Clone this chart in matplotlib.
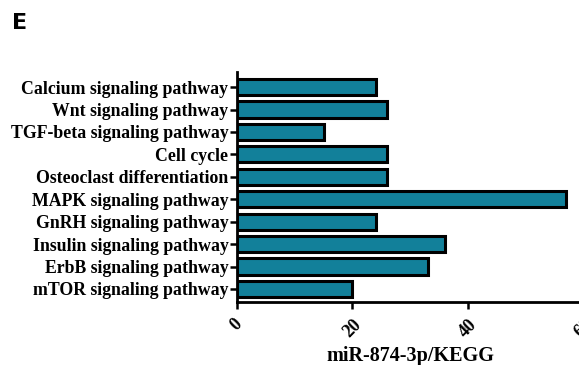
import matplotlib
matplotlib.use("Agg")
import matplotlib.pyplot as plt

pathways = [
    "Calcium signaling pathway",
    "Wnt signaling pathway",
    "TGF-beta signaling pathway",
    "Cell cycle",
    "Osteoclast differentiation",
    "MAPK signaling pathway",
    "GnRH signaling pathway",
    "Insulin signaling pathway",
    "ErbB signaling pathway",
    "mTOR signaling pathway",
]
counts = [24, 26, 15, 26, 26, 57, 24, 36, 33, 20]
xticks = [0, 20, 40, 60]

serif = ["Liberation Serif", "DejaVu Serif"]

fig = plt.figure(figsize=(5.79, 3.65), dpi=100)
ax = fig.add_axes([0.409, 0.1726, 0.5993, 0.630])

n = len(pathways)
ypos = list(range(n - 1, -1, -1))
ax.barh(ypos, counts, height=0.72, color="#12809a", edgecolor="black", linewidth=2.2)

ax.set_xlim(0, 60)
ax.set_ylim(-0.58, n - 1 + 0.67)
ax.set_yticks(ypos)
ax.set_yticklabels(pathways, family=serif, fontweight="bold", fontsize=12.8)
ax.set_xticks(xticks)
ax.set_xticklabels([str(t) for t in xticks], family=serif, fontweight="bold",
                   fontsize=13, rotation=45, ha="center", va="top")

for s in ["top", "right"]:
    ax.spines[s].set_visible(False)
for s in ["left", "bottom"]:
    ax.spines[s].set_linewidth(2)
ax.tick_params(axis="both", width=1.8, length=5, direction="out")
ax.tick_params(axis="y", pad=1)
ax.tick_params(axis="x", pad=5)

ax.set_xlabel("miR-874-3p/KEGG", family=serif, fontweight="bold", fontsize=14.5, labelpad=4)

fig.text(0.02, 0.965, "E", family="DejaVu Sans", fontweight="bold", fontsize=16, va="top", ha="left")

fig.savefig("out.png", dpi=100)
